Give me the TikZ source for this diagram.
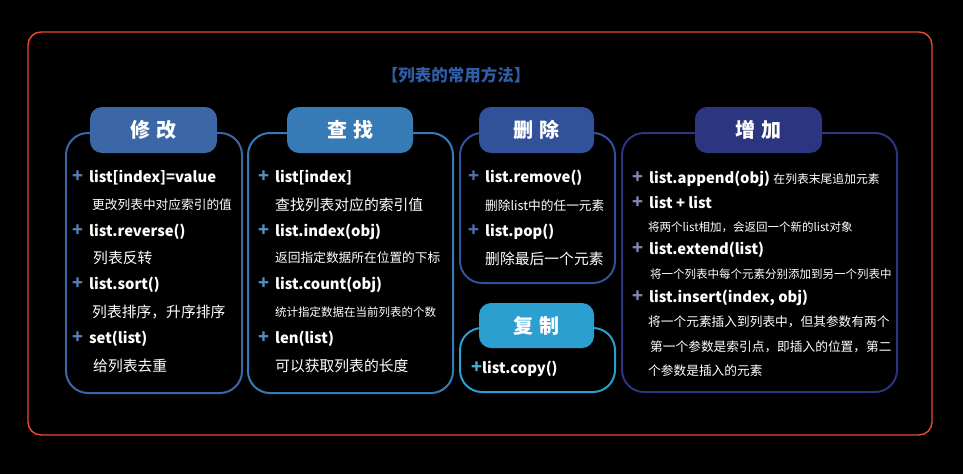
\documentclass[tikz,border=0pt]{standalone}
\usepackage{fontspec}
\setmainfont{Noto Sans CJK SC}
\usetikzlibrary{positioning}
\definecolor{cframe}{HTML}{EE4A2B}
\definecolor{ctitle}{HTML}{2F5EA8}
\definecolor{cmod}{HTML}{3B67A6}
\definecolor{cfind}{HTML}{377BB6}
\definecolor{cdel}{HTML}{31529A}
\definecolor{ccopy}{HTML}{2A9FD0}
\definecolor{cadd}{HTML}{2B3580}
\newcommand\pl[1]{\textcolor{#1!85!white}{\fontsize{18}{16}\selectfont +}\hspace{6pt}}
\tikzset{
  outer/.style={
    draw=cframe, line width=1.4pt, rounded corners=13pt,
    minimum width=904pt, minimum height=403pt
  },
  ttl/.style={
    text=ctitle, font=\bfseries\fontsize{16.5}{18}\selectfont
  },
  pane/.style={
    draw=#1, line width=2pt, rounded corners=22pt
  },
  head/.style={
    fill=#1, rounded corners=12pt, minimum height=46pt,
    text=white, font=\bfseries\fontsize{20}{22}\selectfont
  },
  item/.style={
    anchor=west, inner sep=0pt, text=white,
    font=\bfseries\fontsize{14.8}{16}\selectfont
  },
  desc/.style={
    anchor=west, inner sep=0pt, text=white,
    font=\fontsize{14.8}{16}\selectfont
  },
  descm/.style={desc, font=\fontsize{12.7}{14}\selectfont},
  descs/.style={desc, font=\fontsize{11.5}{13}\selectfont}
}

\begin{document}
\begin{tikzpicture}[x=1pt, y=-1pt]

  \useasboundingbox[fill=black] (0,0) rectangle (963,474);
  \node[outer] (frame) at (480,233.5) {};
  \node[ttl]   (title) at (456,75) {【列表的常用方法】};

  % 修改
  \node[pane=cmod, minimum width=176pt, minimum height=260pt] (modbox) at (154,263) {};
  \node[head=cmod, minimum width=127pt] (modhd) at (153.5,130) {修\hspace{6pt}改};
  \node[item]  (mod1) at (72,178)  {\pl{cmod}list[index]=value};
  \node[descm] (mod2) at (92,205)  {更改列表中对应索引的值};
  \node[item]  (mod3) at (72,232)  {\pl{cmod}list.reverse()};
  \node[desc]  (mod4) at (93,258)  {列表反转};
  \node[item]  (mod5) at (72,285)  {\pl{cmod}list.sort()};
  \node[desc]  (mod6) at (92,312)  {列表排序，升序排序};
  \node[item]  (mod7) at (72,339)  {\pl{cmod}set(list)};
  \node[desc]  (mod8) at (93,366)  {给列表去重};

  % 查找
  \node[pane=cfind, minimum width=205pt, minimum height=260pt] (findbox) at (350.5,263) {};
  \node[head=cfind, minimum width=126pt] (findhd) at (350,130) {查\hspace{6pt}找};
  \node[item]  (find1) at (258,178) {\pl{cfind}list[index]};
  \node[desc]  (find2) at (275,205) {查找列表对应的索引值};
  \node[item]  (find3) at (258,232) {\pl{cfind}list.index(obj)};
  \node[descm] (find4) at (275,258) {返回指定数据所在位置的下标};
  \node[item]  (find5) at (258,285) {\pl{cfind}list.count(obj)};
  \node[descs] (find6) at (275,312) {统计指定数据在当前列表的个数};
  \node[item]  (find7) at (258,339) {\pl{cfind}len(list)};
  \node[desc]  (find8) at (275,366) {可以获取列表的长度};

  % 删除
  \node[pane=cdel, minimum width=155pt, minimum height=150pt] (delbox) at (537.5,208) {};
  \node[head=cdel, minimum width=115pt] (delhd) at (536.5,130) {删\hspace{6pt}除};
  \node[item]  (del1) at (468,178) {\pl{cdel}list.remove()};
  \node[descm] (del2) at (485,206) {删除list中的任一元素};
  \node[item]  (del3) at (468,232) {\pl{cdel}list.pop()};
  \node[desc]  (del4) at (485,259) {删除最后一个元素};

  % 复制
  \node[pane=ccopy, minimum width=155pt, minimum height=64pt] (copybox) at (537.5,360) {};
  \node[head=ccopy, minimum width=115pt, minimum height=45pt] (copyhd) at (536.5,325.5) {复\hspace{6pt}制};
  \node[item]  (copy1) at (471,369) {\textcolor{ccopy!85!white}{\fontsize{18}{16}\selectfont +}list.copy()};

  % 增加
  \node[pane=cadd, minimum width=275pt, minimum height=259pt] (addbox) at (759.5,262.5) {};
  \node[head=cadd, minimum width=127pt] (addhd) at (758.5,130) {增\hspace{6pt}加};
  \node[item]  (add1) at (632,179) {\pl{cadd!70!white}list.append(obj)
                                   {\mdseries\fontsize{11.8}{13}\selectfont 在列表末尾追加元素}};
  \node[item]  (add2) at (632,202) {\pl{cadd!70!white}list + list};
  \node[descs] (add3) at (648,227) {将两个list相加，会返回一个新的list对象};
  \node[item]  (add4) at (632,250) {\pl{cadd!70!white}list.extend(list)};
  \node[descs] (add5) at (650,274) {将一个列表中每个元素分别添加到另一个列表中};
  \node[item]  (add6) at (632,298) {\pl{cadd!70!white}list.insert(index, obj)};
  \node[descm] (add7) at (648,322) {将一个元素插入到列表中，但其参数有两个};
  \node[descm] (add8) at (650,347) {第一个参数是索引点，即插入的位置，第二};
  \node[descm] (add9) at (648,371) {个参数是插入的元素};

\end{tikzpicture}
\end{document}
